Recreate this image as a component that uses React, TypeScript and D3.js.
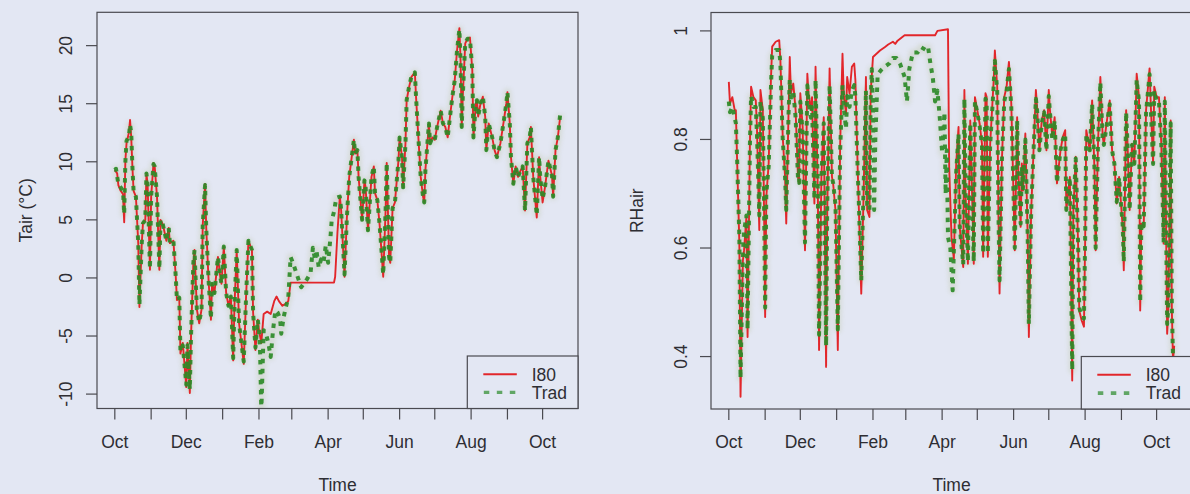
import React from "react";
import * as d3 from "d3";

// Daily series, indexed by days since 1 Oct 2009
const startMs = Date.UTC(2009, 9, 1);

// Air temperature (°C): [day, value]
const tairI80: [number, number][] = [
  [0, 9.3], [2, 9.0], [3, 8.0], [5, 7.5], [7, 7.2], [8, 4.8], [9, 10.1], [10, 11.6], [12, 12.5], [13, 13.6],
  [14, 12.1], [15, 9.6], [16, 7.5], [18, 7.0], [20, 3.0], [21, -2.5], [23, 3.0], [24, 4.7], [26, 5.0], [27, 9.0],
  [28, 8.0], [30, 0.7], [31, 7.0], [33, 9.9], [34, 9.6], [36, 7.0], [38, 0.7], [39, 5.0], [41, 4.6], [44, 3.2],
  [46, 4.3], [47, 3.0], [50, 3.2], [52, 0.1], [53, -1.9], [55, -1.7], [56, -6.5], [58, -5.6], [61, -9.4], [62, -5.6],
  [64, -9.9], [65, -5.1], [67, 1.3], [68, 2.4], [70, -2.7], [72, -3.9], [74, -2.7], [75, 4.5], [77, 8.1], [78, 4.3],
  [80, -0.2], [82, -3.6], [83, -0.5], [85, -1.3], [88, 1.8], [90, 0.1], [91, -0.5], [93, 2.7], [95, -1.3], [97, -2.4],
  [99, -1.6], [101, -7.1], [102, -2.7], [104, 2.4], [106, -3.9], [108, -5.6], [110, -7.4], [112, -1.6], [114, 3.2], [117, 2.4],
  [118, -3.0], [120, -6.2], [122, -3.6], [123, -4.5], [125, -5.6], [127, -3.1], [130, -2.9], [133, -3.1], [136, -2.0], [138, -1.6],
  [140, -2.0], [143, -2.4], [146, -2.2], [148, -2.0], [150, -0.4], [187, -0.4], [188, 0.1], [190, 4.0], [192, 7.0], [193, 6.0],
  [196, 0.1], [198, 5.2], [200, 8.7], [204, 11.9], [205, 10.7], [207, 11.0], [208, 8.7], [211, 5.0], [213, 8.4], [214, 7.8],
  [216, 4.1], [219, 8.7], [221, 9.6], [222, 7.3], [224, 6.7], [226, 4.5], [229, 0.1], [231, 5.7], [232, 9.9], [234, 1.8],
  [235, 1.3], [237, 6.0], [239, 6.5], [242, 10.1], [243, 12.1], [245, 10.4], [246, 7.8], [248, 11.6], [249, 15.3], [251, 16.4],
  [253, 17.3], [256, 17.7], [257, 15.6], [259, 12.1], [261, 8.7], [263, 7.0], [264, 6.5], [265, 9.3], [268, 13.3], [269, 11.6],
  [271, 12.1], [273, 11.9], [275, 13.0], [278, 14.4], [280, 13.3], [282, 13.0], [284, 12.1], [286, 13.9], [288, 15.6], [290, 17.0],
  [292, 19.6], [294, 21.5], [295, 18.7], [296, 13.0], [297, 15.9], [299, 20.2], [301, 20.6], [303, 20.7], [305, 17.9], [306, 12.1],
  [308, 15.0], [309, 15.3], [310, 13.9], [312, 15.0], [314, 15.6], [316, 13.9], [317, 11.0], [319, 13.3], [322, 12.1], [324, 11.0],
  [326, 10.4], [329, 11.6], [332, 13.6], [334, 15.0], [335, 16.0], [337, 13.3], [338, 10.4], [340, 8.1], [342, 9.6], [344, 8.7],
  [346, 9.2], [348, 9.6], [350, 5.8], [352, 11.6], [354, 12.1], [355, 13.0], [357, 8.7], [360, 5.2], [362, 10.4], [363, 8.7],
  [365, 6.5], [367, 7.8], [370, 10.1], [373, 8.8], [374, 7.0], [376, 11.0], [378, 12.1], [380, 13.9],
];

const tairTrad: [number, number][] = [
  [0, 9.3], [1, 9.4], [3, 8.1], [5, 7.8], [7, 7.5], [8, 5.5], [9, 10.0], [10, 11.8], [12, 12.2], [13, 13.2],
  [14, 12.5], [15, 9.6], [16, 7.5], [18, 7.0], [20, 3.0], [21, -2.3], [23, 3.0], [24, 4.7], [26, 5.0], [27, 9.0],
  [28, 8.0], [30, 0.8], [31, 7.0], [33, 9.8], [34, 9.6], [36, 7.0], [38, 0.8], [39, 5.0], [41, 4.6], [44, 3.2],
  [46, 4.3], [47, 3.0], [50, 3.2], [52, 0.1], [53, -1.9], [55, -1.7], [56, -6.3], [58, -5.8], [61, -9.2], [62, -5.8],
  [64, -9.6], [65, -5.1], [67, 1.3], [68, 2.4], [70, -2.7], [72, -3.8], [74, -2.7], [75, 4.5], [77, 8.0], [78, 4.3],
  [80, -0.2], [82, -3.5], [83, -0.5], [85, -1.3], [88, 1.8], [90, 0.1], [91, -0.5], [93, 2.7], [95, -1.3], [97, -2.4],
  [99, -1.6], [101, -6.9], [102, -2.7], [104, 2.4], [106, -3.9], [108, -5.6], [110, -7.2], [112, -1.6], [114, 3.2], [117, 2.4],
  [118, -3.0], [120, -6.0], [122, -3.6], [123, -4.5], [124, -6.5], [125, -11.5], [126, -8.0], [127, -4.5], [129, -4.8], [131, -5.6],
  [133, -6.8], [135, -4.5], [137, -2.8], [139, -3.0], [141, -3.5], [142, -4.8], [144, -3.4], [146, -2.5], [148, -1.7], [150, 1.8],
  [152, 1.3], [154, 0.7], [156, 0.1], [159, -0.8], [162, -0.4], [164, -0.1], [167, 0.4], [169, 2.6], [171, 1.5], [172, 2.4],
  [174, 0.9], [176, 1.6], [178, 1.3], [180, 2.8], [182, 1.3], [184, 3.5], [185, 4.9], [187, 5.7], [189, 6.9], [192, 7.0],
  [193, 6.0], [196, 0.3], [198, 5.2], [200, 8.7], [204, 11.9], [205, 10.7], [207, 11.0], [208, 8.7], [211, 5.0], [213, 8.4],
  [214, 7.8], [216, 4.1], [219, 8.7], [221, 9.6], [222, 7.3], [224, 6.7], [226, 4.5], [229, 0.3], [231, 5.7], [232, 9.9],
  [234, 1.8], [235, 1.3], [237, 6.0], [239, 6.5], [242, 10.1], [243, 12.1], [245, 10.4], [246, 7.8], [248, 11.6], [249, 15.3],
  [251, 16.4], [253, 17.3], [256, 17.7], [257, 15.6], [259, 12.1], [261, 8.7], [263, 7.0], [264, 6.5], [265, 9.3], [268, 13.3],
  [269, 11.6], [271, 12.1], [273, 11.9], [275, 13.0], [278, 14.4], [280, 13.3], [282, 13.0], [284, 12.1], [286, 13.9], [288, 15.6],
  [290, 17.0], [292, 19.6], [294, 21.4], [295, 18.7], [296, 13.0], [297, 15.9], [299, 20.2], [301, 20.6], [303, 20.6], [305, 17.9],
  [306, 12.1], [308, 15.0], [309, 15.3], [310, 13.9], [312, 15.0], [314, 15.6], [316, 13.9], [317, 11.0], [319, 13.3], [322, 12.1],
  [324, 11.0], [326, 10.4], [329, 11.6], [332, 13.6], [334, 15.0], [335, 16.0], [337, 13.3], [338, 10.4], [340, 8.1], [342, 9.6],
  [344, 8.7], [346, 9.2], [348, 9.6], [350, 5.8], [352, 11.6], [354, 12.1], [355, 13.0], [357, 8.7], [360, 5.4], [362, 10.4],
  [363, 8.7], [365, 6.8], [367, 7.8], [370, 10.1], [373, 8.8], [374, 7.0], [376, 11.0], [378, 12.1], [380, 14.1],
];

// Relative humidity of air (fraction): [day, value]
const rhI80: [number, number][] = [
  [0, 0.906], [1, 0.866], [3, 0.878], [5, 0.854], [6, 0.854], [7, 0.768], [9, 0.608], [10, 0.326], [12, 0.577], [13, 0.596],
  [15, 0.657], [16, 0.436], [18, 0.792], [19, 0.897], [21, 0.878], [23, 0.872], [24, 0.823], [26, 0.633], [27, 0.891], [29, 0.854],
  [30, 0.682], [31, 0.473], [32, 0.694], [34, 0.756], [36, 0.915], [37, 0.971], [40, 0.98], [43, 0.983], [44, 0.946], [46, 0.805],
  [48, 0.731], [49, 0.645], [51, 0.854], [52, 0.952], [53, 0.885], [55, 0.903], [57, 0.854], [59, 0.731], [60, 0.719], [61, 0.885],
  [63, 0.823], [65, 0.596], [67, 0.921], [68, 0.885], [70, 0.854], [71, 0.878], [73, 0.682], [74, 0.934], [76, 0.694], [77, 0.412],
  [79, 0.731], [81, 0.841], [83, 0.381], [84, 0.67], [86, 0.931], [88, 0.731], [89, 0.719], [91, 0.67], [93, 0.412], [95, 0.792],
  [97, 0.958], [98, 0.885], [100, 0.848], [101, 0.915], [103, 0.885], [105, 0.934], [107, 0.94], [108, 0.909], [110, 0.743], [111, 0.67],
  [113, 0.516], [115, 0.7], [117, 0.915], [118, 0.67], [120, 0.657], [121, 0.885], [123, 0.952], [126, 0.958], [129, 0.964], [133, 0.97],
  [136, 0.975], [140, 0.98], [142, 0.976], [144, 0.982], [150, 0.992], [176, 0.992], [178, 1.0], [187, 1.003], [188, 0.75], [190, 0.62],
  [192, 0.58], [194, 0.755], [196, 0.823], [197, 0.639], [200, 0.565], [201, 0.891], [202, 0.7], [204, 0.571], [206, 0.835], [209, 0.571],
  [210, 0.878], [212, 0.854], [214, 0.829], [216, 0.792], [217, 0.584], [219, 0.885], [220, 0.878], [221, 0.584], [223, 0.792], [226, 0.909],
  [227, 0.964], [229, 0.897], [230, 0.67], [231, 0.516], [233, 0.762], [235, 0.878], [237, 0.897], [239, 0.943], [241, 0.866], [242, 0.78],
  [244, 0.596], [246, 0.841], [247, 0.743], [249, 0.639], [250, 0.756], [251, 0.706], [253, 0.811], [255, 0.62], [256, 0.436], [258, 0.67],
  [260, 0.78], [262, 0.891], [263, 0.86], [265, 0.78], [267, 0.835], [269, 0.854], [271, 0.78], [273, 0.891], [274, 0.854], [276, 0.805],
  [278, 0.841], [280, 0.719], [283, 0.78], [285, 0.805], [287, 0.817], [288, 0.67], [291, 0.731], [293, 0.356], [294, 0.67], [296, 0.768],
  [298, 0.608], [299, 0.485], [301, 0.467], [303, 0.455], [304, 0.608], [305, 0.817], [308, 0.78], [310, 0.872], [312, 0.743], [313, 0.596],
  [315, 0.792], [317, 0.915], [319, 0.805], [320, 0.792], [323, 0.841], [325, 0.872], [327, 0.78], [329, 0.756], [331, 0.682], [333, 0.731],
  [335, 0.67], [336, 0.639], [337, 0.559], [339, 0.854], [340, 0.805], [342, 0.67], [344, 0.792], [346, 0.756], [348, 0.921], [350, 0.878],
  [351, 0.485], [352, 0.645], [354, 0.639], [356, 0.854], [359, 0.931], [360, 0.866], [362, 0.756], [363, 0.897], [365, 0.878], [367, 0.878],
  [369, 0.792], [371, 0.608], [372, 0.878], [374, 0.442], [375, 0.485], [377, 0.835], [378, 0.485], [379, 0.393], [380, 0.42],
];

const rhTrad: [number, number][] = [
  [0, 0.87], [1, 0.85], [3, 0.86], [5, 0.84], [6, 0.83], [7, 0.77], [9, 0.62], [10, 0.36], [12, 0.59], [13, 0.63],
  [15, 0.66], [16, 0.45], [18, 0.79], [19, 0.88], [21, 0.86], [23, 0.86], [24, 0.81], [26, 0.66], [27, 0.87], [29, 0.84],
  [30, 0.69], [31, 0.49], [32, 0.7], [34, 0.75], [36, 0.9], [37, 0.955], [40, 0.965], [43, 0.965], [44, 0.94], [46, 0.8],
  [48, 0.73], [49, 0.67], [51, 0.85], [52, 0.91], [53, 0.87], [55, 0.89], [57, 0.84], [59, 0.73], [60, 0.72], [61, 0.87],
  [63, 0.81], [65, 0.61], [67, 0.9], [68, 0.87], [70, 0.84], [71, 0.86], [73, 0.69], [74, 0.91], [76, 0.7], [77, 0.44],
  [79, 0.73], [81, 0.83], [83, 0.42], [84, 0.68], [86, 0.9], [88, 0.73], [89, 0.72], [91, 0.68], [93, 0.45], [95, 0.78],
  [97, 0.9], [98, 0.86], [100, 0.82], [101, 0.88], [103, 0.86], [105, 0.89], [107, 0.9], [108, 0.88], [110, 0.74], [111, 0.68],
  [113, 0.54], [115, 0.71], [117, 0.89], [118, 0.68], [120, 0.67], [121, 0.87], [122, 0.93], [123, 0.86], [124, 0.67], [125, 0.8],
  [127, 0.92], [130, 0.928], [133, 0.934], [137, 0.94], [140, 0.95], [143, 0.95], [146, 0.94], [150, 0.915], [152, 0.87], [154, 0.93],
  [157, 0.96], [161, 0.96], [164, 0.97], [168, 0.965], [170, 0.97], [172, 0.94], [174, 0.915], [176, 0.87], [178, 0.89], [180, 0.84],
  [182, 0.775], [184, 0.85], [185, 0.7], [186, 0.78], [187, 0.62], [189, 0.6], [191, 0.522], [194, 0.74], [196, 0.81], [197, 0.64],
  [200, 0.57], [201, 0.875], [202, 0.7], [204, 0.575], [206, 0.83], [209, 0.575], [210, 0.87], [212, 0.85], [214, 0.825], [216, 0.79],
  [217, 0.59], [219, 0.875], [220, 0.87], [221, 0.59], [223, 0.79], [226, 0.9], [227, 0.945], [229, 0.89], [230, 0.67], [231, 0.54],
  [233, 0.76], [235, 0.87], [237, 0.89], [239, 0.93], [241, 0.86], [242, 0.78], [244, 0.6], [246, 0.835], [247, 0.74], [249, 0.645],
  [250, 0.75], [251, 0.71], [253, 0.8], [255, 0.625], [256, 0.46], [258, 0.67], [260, 0.78], [262, 0.875], [263, 0.855], [265, 0.78],
  [267, 0.83], [269, 0.85], [271, 0.78], [273, 0.88], [274, 0.85], [276, 0.8], [278, 0.835], [280, 0.72], [283, 0.78], [285, 0.8],
  [287, 0.81], [288, 0.67], [291, 0.73], [293, 0.375], [294, 0.67], [296, 0.765], [298, 0.61], [299, 0.49], [301, 0.475], [303, 0.47],
  [304, 0.61], [305, 0.81], [308, 0.78], [310, 0.865], [312, 0.745], [313, 0.6], [315, 0.79], [317, 0.905], [319, 0.8], [320, 0.79],
  [323, 0.835], [325, 0.865], [327, 0.78], [329, 0.755], [331, 0.685], [333, 0.73], [335, 0.67], [336, 0.645], [337, 0.575], [339, 0.85],
  [340, 0.8], [342, 0.67], [344, 0.79], [346, 0.755], [348, 0.91], [350, 0.87], [351, 0.5], [352, 0.645], [354, 0.64], [356, 0.85],
  [359, 0.92], [360, 0.86], [362, 0.755], [363, 0.89], [365, 0.87], [367, 0.87], [369, 0.79], [371, 0.61], [372, 0.87], [374, 0.46],
  [375, 0.49], [377, 0.83], [378, 0.49], [379, 0.4],
];

const tairTicks = [-10, -5, 0, 5, 10, 15, 20];
const rhTicks = [0.4, 0.6, 0.8, 1];
const seriesNames = ["I80", "Trad"];

const W = 1190;
const H = 494;
const FONT = "'Liberation Sans', Arial, Helvetica, sans-serif";
const FS = 17.5;
const BG = "#e3e7f3";
const INK = "#2e2e33";
const AXIS = "#4a4a50";
const RED = "#e2262b";
const GREEN = "#2c8a28";
const HALO = "#c4ccb4";

const day = (d: number) => new Date(startMs + d * 864e5);

type Panel = {
  id: string;
  x0: number;
  x1: number;
  y0: number;
  y1: number;
  yDomain: [number, number];
  ticks: number[];
  fmt: (v: number) => string;
  ylab: string;
  tickLabOff: number;
  ylabOff: number;
  i80: [number, number][];
  trad: [number, number][];
};

const panels: Panel[] = [
  {
    id: "tair", x0: 97, x1: 578, y0: 12.3, y1: 408.5, yDomain: [-11.24, 22.87],
    ticks: tairTicks, fmt: (v) => String(v), ylab: "Tair (°C)", tickLabOff: 25.3, ylabOff: 65.3,
    i80: tairI80, trad: tairTrad,
  },
  {
    id: "rh", x0: 711, x1: 1192, y0: 12.5, y1: 409, yDomain: [0.3034, 1.0339],
    ticks: rhTicks, fmt: (v) => (v === 1 ? "1" : String(v)), ylab: "RHair", tickLabOff: 24, ylabOff: 68,
    i80: rhI80, trad: rhTrad,
  },
];

function ChartPanel({ p }: { p: Panel }) {
  const x = d3.scaleUtc().domain([day(-15.2), day(395.2)]).range([p.x0, p.x1]);
  const y = d3.scaleLinear().domain(p.yDomain).range([p.y1, p.y0]);
  const line = d3
    .line<[number, number]>()
    .x((d) => x(day(d[0])))
    .y((d) => y(d[1]));
  const months = d3.utcMonth.range(day(0), day(367));
  const labelled = (i: number) => i % 2 === 0;
  const fmtMonth = d3.utcFormat("%b");
  const cx = (p.x0 + p.x1) / 2;
  const cy = (p.y0 + p.y1) / 2;
  const lgX0 = p.x1 - 110.7;
  const lgY0 = p.y1 - 52.5;
  const rowY = [lgY0 + 18.3, lgY0 + 36.6];

  return (
    <g>
      <defs>
        <clipPath id={`clip-${p.id}`}>
          <rect x={p.x0} y={p.y0} width={p.x1 - p.x0} height={p.y1 - p.y0} />
        </clipPath>
      </defs>
      <g clipPath={`url(#clip-${p.id})`}>
        {/* faint glow under the traces */}
        <g filter="url(#haze)" opacity={0.45}>
          <path d={line(p.trad) ?? ""} fill="none" stroke={HALO} strokeWidth={7} strokeLinejoin="round" />
        </g>
        <g filter="url(#soft)">
          <path d={line(p.i80) ?? ""} fill="none" stroke={RED} strokeWidth={1.9} strokeLinejoin="round" />
          <path
            d={line(p.trad) ?? ""}
            fill="none"
            stroke={GREEN}
            strokeWidth={4}
            strokeDasharray="4.5,5.5"
            strokeLinejoin="round"
            opacity={0.92}
          />
        </g>
      </g>
      {/* plot frame */}
      <rect x={p.x0} y={p.y0} width={p.x1 - p.x0} height={p.y1 - p.y0} fill="none" stroke={AXIS} strokeWidth={1.2} />
      {/* y axis */}
      {p.ticks.map((v) => (
        <g key={v}>
          <line x1={p.x0 - 11} x2={p.x0} y1={y(v)} y2={y(v)} stroke={AXIS} strokeWidth={1.2} />
          <text
            transform={`translate(${p.x0 - p.tickLabOff},${y(v)}) rotate(-90)`}
            textAnchor="middle"
            fontSize={FS}
            fill={INK}
          >
            {p.fmt(v)}
          </text>
        </g>
      ))}
      {/* x axis */}
      {months.map((m, i) => (
        <g key={i}>
          <line x1={x(m)} x2={x(m)} y1={p.y1} y2={p.y1 + 11} stroke={AXIS} strokeWidth={1.2} />
          {labelled(i) && (
            <text x={x(m)} y={448} textAnchor="middle" fontSize={FS} fill={INK}>
              {fmtMonth(m)}
            </text>
          )}
        </g>
      ))}
      <text x={cx} y={490.5} textAnchor="middle" fontSize={FS} fill={INK}>
        Time
      </text>
      <text
        transform={`translate(${p.x0 - p.ylabOff},${cy}) rotate(-90)`}
        textAnchor="middle"
        fontSize={FS}
        fill={INK}
      >
        {p.ylab}
      </text>
      {/* legend */}
      <rect x={lgX0} y={lgY0} width={p.x1 - lgX0} height={p.y1 - lgY0} fill={BG} stroke={AXIS} strokeWidth={1.2} />
      <g filter="url(#soft)">
        <line x1={lgX0 + 16} x2={lgX0 + 49.5} y1={rowY[0]} y2={rowY[0]} stroke={RED} strokeWidth={1.9} />
        <line
          x1={lgX0 + 16}
          x2={lgX0 + 50}
          y1={rowY[1]}
          y2={rowY[1]}
          stroke={GREEN}
          strokeWidth={3.8}
          strokeDasharray="5.5,7.5"
          strokeDashoffset={-0.5}
          opacity={0.7}
        />
      </g>
      {seriesNames.map((s, i) => (
        <text key={s} x={lgX0 + 64.4} y={rowY[i] + 6.3} fontSize={FS} fill={INK}>
          {s}
        </text>
      ))}
    </g>
  );
}

export default function App() {
  return (
    <svg
      width={W}
      height={H}
      viewBox={`0 0 ${W} ${H}`}
      style={{ position: "fixed", left: 0, top: 0, display: "block", background: BG }}
      fontFamily={FONT}
    >
      <defs>
        <filter id="soft" x="-5%" y="-5%" width="110%" height="110%">
          <feGaussianBlur stdDeviation={0.55} />
        </filter>
        <filter id="haze" x="-5%" y="-5%" width="110%" height="110%">
          <feGaussianBlur stdDeviation={2} />
        </filter>
      </defs>
      <rect width={W} height={H} fill={BG} />
      {panels.map((p) => (
        <ChartPanel key={p.id} p={p} />
      ))}
    </svg>
  );
}
